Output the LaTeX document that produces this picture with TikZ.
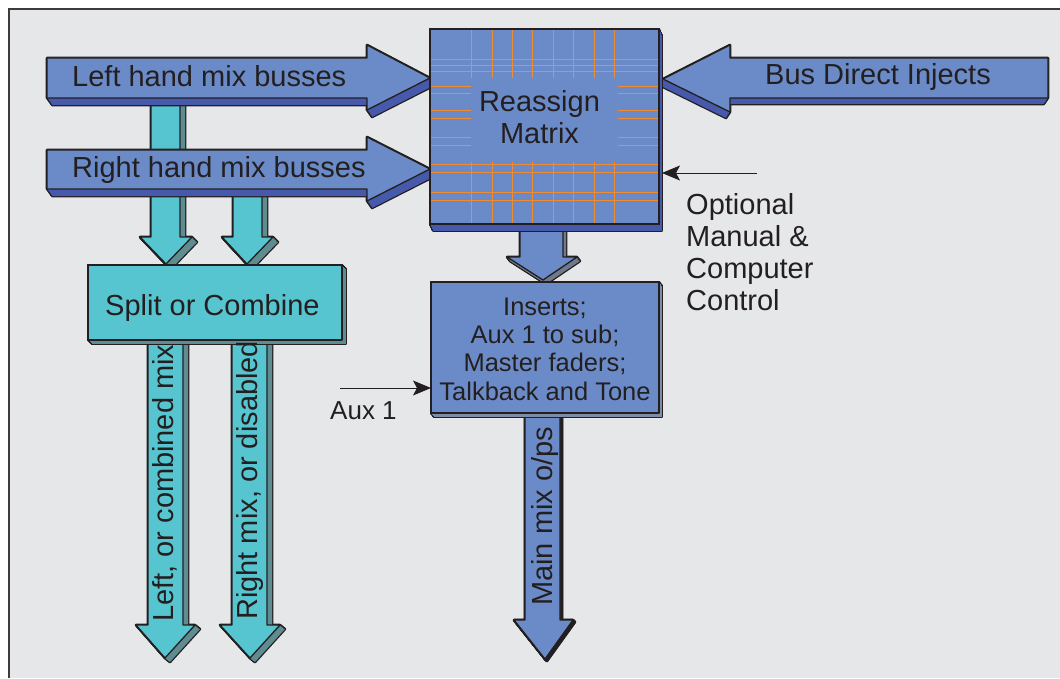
\documentclass[tikz,border=0pt]{standalone}
\usepackage{fontspec}
\setmainfont{Liberation Sans}
\usetikzlibrary{arrows.meta}

\definecolor{paper}{HTML}{E6E7E9}
\definecolor{ink}{HTML}{231F20}
\definecolor{frameline}{HTML}{3C3C3E}
\definecolor{busblue}{HTML}{6B8BC8}
\definecolor{busside}{HTML}{4659AA}
\definecolor{cyantop}{HTML}{56C5CF}
\definecolor{cyanside}{HTML}{5F8C90}
\definecolor{boxside}{HTML}{7F8CA8}
\definecolor{greyside}{HTML}{6F7A8C}
\definecolor{gridorange}{HTML}{F08C2E}

% Extruded flat solid: side colour, top colour, depth vector (dx,dy), outline path.
% The outline is swept along the depth vector (stroked first, then filled, so only
% the outer silhouette keeps a rim), then the top face is laid over it.
\newcommand\slab[5]{%
  \foreach \fr in {0,0.125,...,1}{\draw[ink, line width=2.6bp, line join=round, shift={({\fr*(#3)},{\fr*(#4)})}] #5;}
  \foreach \fr in {0,0.125,...,1}{\fill[#1, shift={({\fr*(#3)},{\fr*(#4)})}] #5;}
  \filldraw[fill=#2, draw=ink, line width=1.3bp, line join=round] #5;
}

\begin{document}
\begin{tikzpicture}[x=1bp, y=-1bp,
  biglabel/.style={font=\fontsize{29bp}{31.7bp}\selectfont, text=ink, inner sep=0},
  smalllabel/.style={font=\fontsize{25.5bp}{28.3bp}\selectfont, text=ink, inner sep=0},
  auxlabel/.style={font=\fontsize{26bp}{30bp}\selectfont, text=ink, inner sep=0},
  gridline/.style={gridorange, line width=0.9bp},
  feed/.style={ink, line width=0.9bp, -{Stealth[length=18bp, width=15bp, inset=4bp]}},
  area/.style={inner sep=0, outer sep=0}]

\useasboundingbox (0,0) rectangle (1060,679);

% panel
\fill[paper] (9,9) rectangle (1060,677.5);
\draw[frameline, line width=1.3bp] (9,677.5) -- (9,9) -- (1060,9);

% cyan feeds from the mix busses into the splitter
\slab{cyanside}{cyantop}{5}{5}{(151,95) -- (180,95) -- (180,237) -- (192,237) -- (166,264) -- (140,237) -- (151,237) -- cycle}
\slab{cyanside}{cyantop}{5}{5}{(233,185) -- (262,185) -- (262,237) -- (273,237) -- (247,264) -- (222,237) -- (233,237) -- cycle}

% mix bus arrows
\slab{busside}{busblue}{5}{7}{(47,58) -- (367,58) -- (367,45) -- (430,78) -- (367,110) -- (367,98) -- (47,98) -- cycle}
\slab{busside}{busblue}{5}{7}{(47,150) -- (367,150) -- (367,137) -- (430,169) -- (367,201) -- (367,189) -- (47,189) -- cycle}
\slab{busside}{busblue}{-4}{6}{(1048,58) -- (730,58) -- (730,45) -- (663,79) -- (730,112) -- (730,98) -- (1048,98) -- cycle}

% matrix to inserts
\slab{greyside}{busblue}{3}{4}{(520,222) -- (563,222) -- (563,257) -- (577,257) -- (543,280) -- (507,257) -- (520,257) -- cycle}

% reassign matrix
\slab{busside}{busblue}{3}{7}{(430,29) -- (659,29) -- (659,224) -- (430,224) -- cycle}
\foreach \gx in {471.7,492.3,512.3,532.7,553.3,573.7,594.3,614.7}{
  \draw[gridline] (\gx,29.7) -- (\gx,78.3);
  \draw[gridline] (\gx,161.7) -- (\gx,223.3);
}
\foreach \gy in {59.3,65.3,71.7,164.3,172,192.7,200}
  \draw[gridline] (430.7,\gy) -- (658.3,\gy);
\foreach \gy in {86,93.7,110.7,118.3,137.3,145}{
  \draw[gridline] (430.7,\gy) -- (470.7,\gy);
  \draw[gridline] (618,\gy) -- (658.3,\gy);
}
\draw[ink, line width=1.3bp] (430,29) rectangle (659,224);

% outputs
\slab{cyanside}{cyantop}{5}{4}{(148,335) -- (183,335) -- (183,625) -- (195,625) -- (165,658) -- (136,625) -- (148,625) -- cycle}
\slab{cyanside}{cyantop}{5}{4}{(232,335) -- (267,335) -- (267,625) -- (280,625) -- (250,658) -- (220,625) -- (232,625) -- cycle}
\slab{ink}{busblue}{2}{2}{(525,410) -- (560,410) -- (560,620) -- (573,620) -- (545,659) -- (514,620) -- (525,620) -- cycle}

% splitter and insert section blocks
\slab{cyanside}{cyantop}{4}{4}{(88,265) -- (342,265) -- (342,340) -- (88,340) -- cycle}
\slab{boxside}{busblue}{3}{4}{(431,282) -- (659,282) -- (659,413) -- (431,413) -- cycle}

% block areas used by the control feeds
\node[area, minimum width=232bp, minimum height=195bp] (reassign) at (546,126.5) {};
\node[area, minimum width=231bp, minimum height=131bp] (inserts) at (546.5,347.5) {};

% labels (multi-line labels are placed by the baseline of their last line)
\node[biglabel, anchor=base west] (lhm) at (72,87) {Left hand mix busses};
\node[biglabel, anchor=base west] (rhm) at (72,178) {Right hand mix busses};
\node[biglabel, anchor=base west] (bdi) at (765,85) {Bus Direct Injects};
\node[biglabel, anchor=base, align=center] (rmtxt) at (539.5,143.3) {Reassign\\Matrix};
\node[biglabel, anchor=base west] (soc) at (105,315) {Split or Combine};
\node[smalllabel, anchor=base, align=center] (instxt) at (545,400) {Inserts;\\Aux 1 to sub;\\Master faders;\\Talkback and Tone};
\node[biglabel, anchor=base west, align=left] (opt) at (686,310) {Optional\\Manual \&\\Computer\\Control};
\node[auxlabel, anchor=base west] (auxtxt) at (330,419) {Aux 1};
\node[biglabel, anchor=base west, rotate=90] (lout) at (173,622) {Left, or combined mix};
\node[biglabel, anchor=base west, rotate=90] (rout) at (257,620) {Right mix, or disabled};
\node[biglabel, anchor=base west, rotate=90] (mout) at (552,606) {Main mix o/ps};

% control feeds
\coordinate (optsrc) at (757,173);
\draw[feed] (optsrc) -- (optsrc -| reassign.east);
\coordinate (auxsrc) at (340,388);
\draw[feed] (auxsrc) -- (auxsrc -| inserts.west);

\end{tikzpicture}
\end{document}
